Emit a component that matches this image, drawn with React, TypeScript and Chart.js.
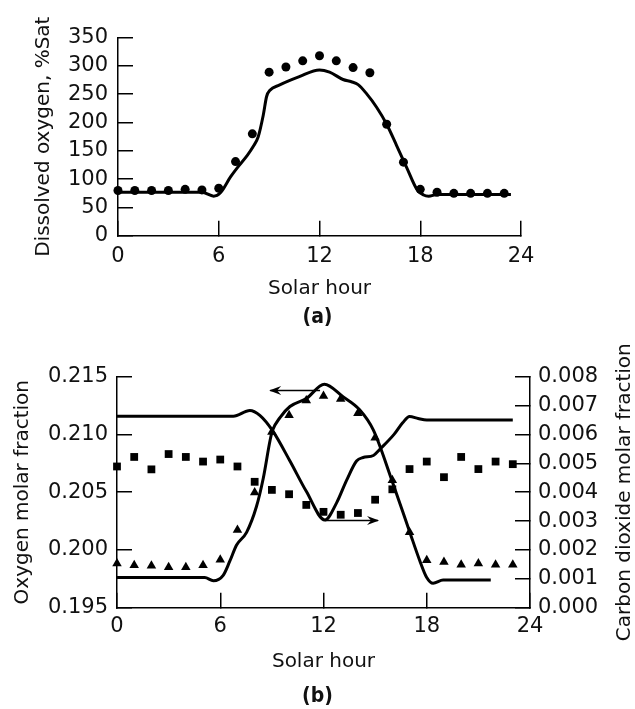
import React, { useEffect, useRef } from 'react';
import { Chart, registerables } from 'chart.js';

Chart.register(...registerables);

const FONT = "'DejaVu Sans', sans-serif";
const PANEL_FONT = "'DejaVu Sans Condensed', 'DejaVu Sans', sans-serif";
const INK = '#111';

// ---------- (a) Dissolved oxygen ----------
const hourTicks = [0, 6, 12, 18, 24];
const doTicks = [0, 50, 100, 150, 200, 250, 300, 350];
const measuredHours = [0, 1, 2, 3, 4, 5, 6, 7, 8, 9, 10, 11, 12, 13, 14, 15, 16, 17, 18, 19, 20, 21, 22, 23];
const doMeasured = [80, 80, 80, 80, 82, 81, 84, 131, 180, 289, 298, 309, 318, 309, 297, 288, 197, 130, 82, 77, 75, 75, 75, 75];
const doModelHours = [0, 5.0, 5.7, 6.1, 6.7, 7.1, 7.7, 8.06, 8.35, 8.65, 8.85, 9.05, 9.6, 10.8, 12.0, 12.6, 13.4, 13.9, 14.3, 14.8, 15.4, 16.0, 16.6, 17.2, 17.8, 18.2, 18.5, 19.0, 23.4];
const doModelValues = [77, 77, 70, 76, 104, 120, 142, 158, 175, 213, 246, 257, 266, 281, 293, 289, 276, 272, 267, 251, 227, 197, 159, 120, 82, 72, 70, 73, 73];

// ---------- (b) Oxygen / carbon dioxide molar fractions ----------
const o2Ticks = [0.195, 0.2, 0.205, 0.21, 0.215];
const co2Ticks = [0, 0.001, 0.002, 0.003, 0.004, 0.005, 0.006, 0.007, 0.008];
const o2Measured = [0.19883, 0.19869, 0.19864, 0.1985, 0.1985, 0.19869, 0.19916, 0.20172, 0.20497, 0.21021, 0.21165, 0.21293, 0.21332, 0.21307, 0.21182, 0.20972, 0.20603, 0.20153, 0.19911, 0.19897, 0.19872, 0.19883, 0.19872, 0.19872];
const co2Measured = [0.00489, 0.00522, 0.00479, 0.00532, 0.00522, 0.00506, 0.00513, 0.00489, 0.00436, 0.00408, 0.00393, 0.00356, 0.00332, 0.00322, 0.00328, 0.00374, 0.0041, 0.0048, 0.00506, 0.00452, 0.00522, 0.0048, 0.00506, 0.00497];
const o2ModelHours = [0, 5.1, 5.6, 6.17, 6.56, 6.95, 7.53, 8.1, 8.5, 8.9, 9.04, 9.47, 10.05, 11.0, 12.05, 13.15, 14.1, 14.9, 16.0, 17.0, 17.6, 17.98, 18.37, 18.95, 21.72];
const o2ModelValues = [0.19762, 0.19762, 0.19734, 0.19781, 0.19905, 0.20043, 0.20153, 0.20374, 0.20621, 0.20952, 0.21035, 0.21145, 0.21241, 0.2131, 0.21434, 0.21324, 0.21213, 0.21037, 0.20591, 0.20161, 0.19905, 0.19767, 0.19712, 0.1974, 0.1974];
const co2ModelHours = [0, 6.76, 7.72, 8.3, 9.04, 10.05, 11.0, 12.08, 12.76, 13.34, 13.92, 14.3, 14.9, 15.3, 16.1, 16.6, 17.0, 17.5, 18.0, 23.0];
const co2ModelValues = [0.00663, 0.00663, 0.00683, 0.00666, 0.00613, 0.00508, 0.00403, 0.00304, 0.00363, 0.00441, 0.00508, 0.0052, 0.00527, 0.0055, 0.006, 0.0064, 0.00662, 0.00655, 0.0065, 0.0065];
// arrows: [tail hour, tip hour] at a fixed level
const o2ArrowHours = [11.8, 8.9];
const o2ArrowLevel = 0.2138;
const co2ArrowHours = [12.08, 15.17];
const co2ArrowLevel = 0.00302;

const CO2_TITLE = 'Carbon dioxide molar fraction';

const pts = (xs: number[], ys: number[]) => xs.map((x, i) => ({ x, y: ys[i] }));

function axis(ticksArr: number[], labelPadding: number, fmt: (v: number) => string, extra: any) {
  return {
    type: 'linear',
    min: ticksArr[0],
    max: ticksArr[ticksArr.length - 1],
    afterBuildTicks: (s: any) => {
      s.ticks = ticksArr.map((v) => ({ value: v }));
    },
    grid: {
      drawOnChartArea: false,
      drawTicks: true,
      tickLength: -15,
      color: '#000',
      tickColor: '#000',
      tickWidth: 1.5,
      lineWidth: 1.5,
    },
    border: { display: true, color: '#000', width: 1.5 },
    ticks: {
      padding: labelPadding,
      color: INK,
      font: { family: FONT, size: 21 },
      autoSkip: false,
      maxRotation: 0,
      minRotation: 0,
      callback: (v: any) => fmt(Number(v)),
    },
    ...extra,
  };
}

function lineSet(data: any[], yAxisID: string) {
  return {
    data,
    yAxisID,
    borderColor: '#000',
    borderWidth: 3,
    pointRadius: 0,
    cubicInterpolationMode: 'monotone',
    fill: false,
    clip: false,
  };
}

function markerSet(data: any[], yAxisID: string, style: string, radius: number) {
  return {
    data,
    yAxisID,
    showLine: false,
    pointStyle: style,
    pointRadius: radius,
    pointBackgroundColor: '#000',
    pointBorderColor: '#000',
    pointBorderWidth: 0,
    clip: false,
  };
}

function arrowSet(hours: number[], level: number, yAxisID: string) {
  return {
    data: hours.map((h) => ({ x: h, y: level })),
    yAxisID,
    borderColor: '#000',
    borderWidth: 1.5,
    pointRadius: 0,
    tension: 0,
    clip: false,
  };
}

const arrowPlugin = {
  id: 'arrowsAndRightTitle',
  afterDatasetsDraw(chart: any) {
    const { ctx, scales } = chart;
    const xs = scales.x;
    const head = (hours: number[], level: number, yScale: any) => {
      const x0 = xs.getPixelForValue(hours[0]);
      const x1 = xs.getPixelForValue(hours[1]);
      const y = yScale.getPixelForValue(level);
      const d = Math.sign(x1 - x0);
      ctx.save();
      ctx.fillStyle = '#000';
      ctx.beginPath();
      ctx.moveTo(x1 + d * 1, y);
      ctx.lineTo(x1 - d * 11, y - 4.5);
      ctx.lineTo(x1 - d * 7, y);
      ctx.lineTo(x1 - d * 11, y + 4.5);
      ctx.closePath();
      ctx.fill();
      ctx.restore();
    };
    head(o2ArrowHours, o2ArrowLevel, scales.yO2);
    head(co2ArrowHours, co2ArrowLevel, scales.yCO2);
  },
  afterDraw(chart: any) {
    const { ctx, chartArea, scales } = chart;
    const yS = scales.yCO2;
    ctx.save();
    ctx.translate(yS.right - 10, (chartArea.top + chartArea.bottom) / 2);
    ctx.rotate(-Math.PI / 2);
    ctx.font = `20px ${FONT}`;
    ctx.fillStyle = INK;
    ctx.textAlign = 'center';
    ctx.textBaseline = 'middle';
    ctx.fillText(CO2_TITLE, 0, 0);
    ctx.restore();
  },
};

function configA(): any {
  return {
    type: 'line',
    data: {
      datasets: [
        lineSet(pts(doModelHours, doModelValues), 'y'),
        markerSet(pts(measuredHours, doMeasured), 'y', 'circle', 4.5),
      ],
    },
    options: {
      animation: false,
      responsive: false,
      devicePixelRatio: 1,
      events: [],
      layout: { padding: { top: 23, right: 0, bottom: 10, left: 0 } },
      plugins: {
        legend: { display: false },
        tooltip: { enabled: false },
        title: {
          display: true,
          position: 'bottom',
          text: '(a)',
          color: INK,
          padding: 0,
          font: { family: PANEL_FONT, size: 21, weight: 'bold' },
        },
      },
      scales: {
        x: axis(hourTicks, 23, (v) => String(v), {
          position: 'bottom',
          afterFit: (s: any) => {
            s.height = 69;
          },
          title: {
            display: true,
            text: 'Solar hour',
            color: INK,
            font: { family: FONT, size: 20 },
            padding: { top: 0, bottom: 4 },
          },
        }),
        y: axis(doTicks, 25, (v) => String(Math.round(v)), {
          position: 'left',
          afterFit: (s: any) => {
            s.width = 118;
          },
          title: {
            display: true,
            text: 'Dissolved oxygen, %Sat',
            color: INK,
            font: { family: FONT, size: 20 },
            padding: { top: 32, bottom: 0 },
          },
        }),
        spacer: {
          type: 'linear',
          position: 'right',
          display: true,
          grid: { display: false, drawTicks: false },
          border: { display: false },
          ticks: { display: false },
          afterFit: (s: any) => {
            s.width = 114;
          },
        },
      },
    },
  };
}

function configB(): any {
  return {
    type: 'line',
    data: {
      datasets: [
        lineSet(pts(o2ModelHours, o2ModelValues), 'yO2'),
        lineSet(pts(co2ModelHours, co2ModelValues), 'yCO2'),
        markerSet(pts(measuredHours, o2Measured), 'yO2', 'triangle', 5.5),
        markerSet(pts(measuredHours, co2Measured), 'yCO2', 'rect', 5.5),
        arrowSet(o2ArrowHours, o2ArrowLevel, 'yO2'),
        arrowSet(co2ArrowHours, co2ArrowLevel, 'yCO2'),
      ],
    },
    options: {
      animation: false,
      responsive: false,
      devicePixelRatio: 1,
      events: [],
      layout: { padding: { top: 28, right: 0, bottom: 0, left: 0 } },
      plugins: {
        legend: { display: false },
        tooltip: { enabled: false },
        title: {
          display: true,
          position: 'bottom',
          text: '(b)',
          color: INK,
          padding: 0,
          font: { family: PANEL_FONT, size: 21, weight: 'bold' },
        },
      },
      scales: {
        x: axis(hourTicks, 21, (v) => String(v), {
          position: 'bottom',
          afterFit: (s: any) => {
            s.height = 76;
          },
          title: {
            display: true,
            text: 'Solar hour',
            color: INK,
            font: { family: FONT, size: 20 },
            padding: { top: 0, bottom: 10 },
          },
        }),
        yO2: axis(o2Ticks, 24, (v) => v.toFixed(3), {
          position: 'left',
          afterFit: (s: any) => {
            s.width = 117;
          },
          title: {
            display: true,
            text: 'Oxygen molar fraction',
            color: INK,
            font: { family: FONT, size: 20 },
            padding: { top: 11, bottom: 0 },
          },
        }),
        yCO2: axis(co2Ticks, 23, (v) => v.toFixed(3), {
          position: 'right',
          afterFit: (s: any) => {
            s.width = 105;
          },
          title: { display: false },
        }),
      },
    },
    plugins: [arrowPlugin],
  };
}

function ChartCanvas({ make, width, height, top }: { make: () => any; width: number; height: number; top: number }) {
  const ref = useRef<HTMLCanvasElement | null>(null);
  useEffect(() => {
    if (!ref.current) return;
    const chart = new Chart(ref.current, make());
    return () => chart.destroy();
  }, [make]);
  return (
    <canvas
      ref={ref}
      width={width}
      height={height}
      style={{ position: 'absolute', left: 0, top, width, height, display: 'block' }}
    />
  );
}

export default function App() {
  return (
    <div style={{ position: 'absolute', left: 0, top: 0, width: 635, height: 709, background: '#fff' }}>
      <ChartCanvas make={configA} width={635} height={340} top={0} />
      <ChartCanvas make={configB} width={635} height={369} top={340} />
    </div>
  );
}
